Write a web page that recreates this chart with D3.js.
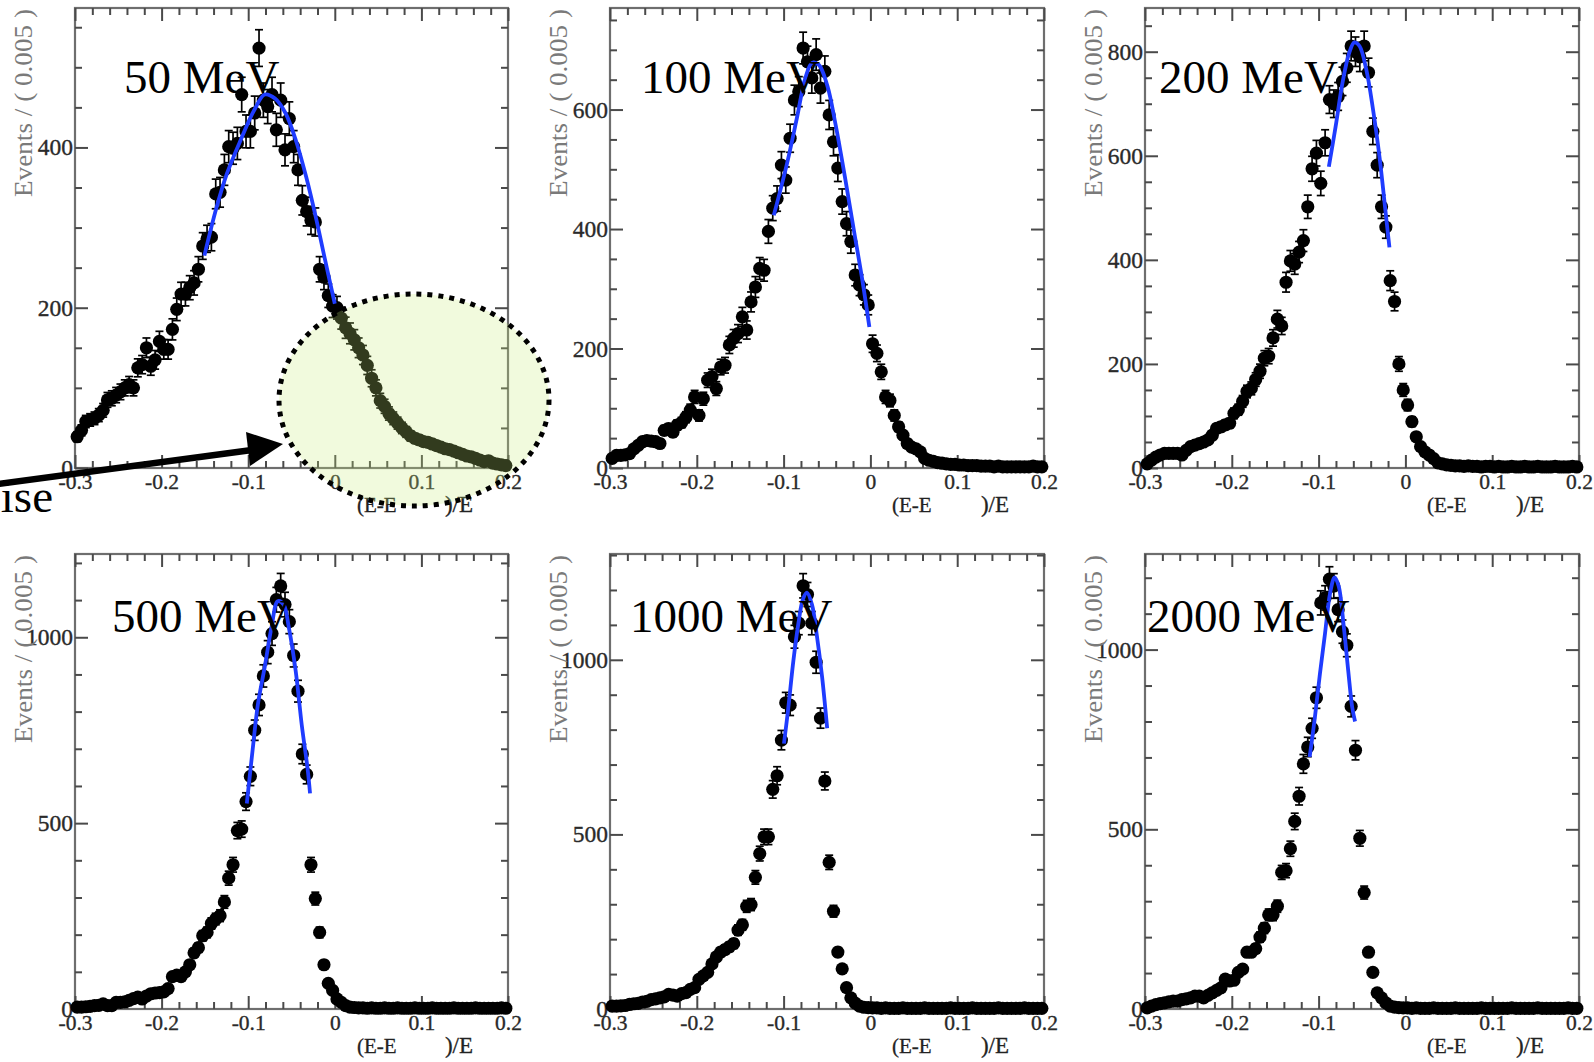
<!DOCTYPE html>
<html><head><meta charset="utf-8">
<script src="https://cdn.jsdelivr.net/npm/d3@7"></script>
<style>body{margin:0;background:#fff;}svg{display:block;}</style>
</head><body>
<svg id="chart" width="1594" height="1062"></svg>
<script>
// ---------- data ----------
const energies = ["50 MeV","100 MeV","200 MeV","500 MeV","1000 MeV","2000 MeV"];
const xTickValues = [-0.3,-0.2,-0.1,0,0.1,0.2];
const xTickLabels = ["-0.3","-0.2","-0.1","0","0.1","0.2"];
const yMaxes = [574,770,884,1224,1303,1266];
const yMajorTicks = [[0,200,400],[0,200,400,600],[0,200,400,600,800],[0,500,1000],[0,500,1000],[0,500,1000]];
const yMinorSteps = [50,50,50,100,100,100];
const yTitle = "Events / ( 0.005 )";
const xTitleLeft = "(E-E";
const xTitleRight = ")/E";
const noteText = "noise";

const counts50 = [39,47,58,60,62,66,72,85,87,91, 95,100,104,100,125,129,150,127,135,158,
  148,148,173,198,217,217,225,231,248,277, 286,288,342,344,372,401,399,405,466,420,
  420,443,524,459,451,466,422,459,397,436, 401,372,334,320,309,307,248,238,215,202,
  200,187,175,168,160,150,141,128,112,100, 84,77,68,62,56,50,45,40,37,35,
  33,32,30,28,26,24,23,21,19,17, 15,14,12,10,8,9,6,5,4,3];
const counts100 = [16,21,21,22,24,32,38,44,46,45, 44,41,63,66,60,72,76,85,97,119,
  88,116,147,153,133,169,172,206,217,225, 253,231,278,303,334,331,396,435,451,507,
  482,552,616,630,703,680,653,692,636,664, 591,546,502,446,409,379,323,306,290,273,
  208,192,161,119,113,88,69,55,41,35, 32,27,16,13,11,9,8,7,6,6,
  5,5,4,4,4,3,3,3,2,3, 2,2,2,2,2,2,2,3,2,2];
const counts200 = [8,15,21,25,28,28,28,28,25,34, 41,44,47,50,54,63,76,79,83,86,
  105,112,128,147,153,170,186,211,215,250, 286,273,357,398,392,415,437,502,575,605,
  547,625,708,700,714,743,769,811,800,790, 811,760,647,582,502,463,360,320,200,150,
  121,89,60,41,31,25,18,10,8,6, 5,4,4,3,4,3,3,2,3,3,
  2,3,2,2,3,2,2,3,2,2, 3,2,2,2,3,2,2,2,3,2];
const counts500 = [5,5,6,7,9,10,14,9,9,18, 18,19,23,28,32,27,35,41,43,44,
  46,55,87,91,87,100,119,151,165,197, 206,230,242,251,288,352,388,480,484,558,
  626,750,818,896,960,1010,1101,1138,1088,1042, 951,855,686,631,388,297,206,119,69,50,
  27,18,9,5,4,3,3,2,3,2, 2,3,2,2,3,2,2,2,3,2,
  2,2,3,2,2,2,2,3,2,2, 2,2,3,2,2,2,2,2,3,2];
const counts1000 = [8,8,9,10,13,15,16,20,22,27, 29,32,35,42,40,37,44,47,56,61,
  85,95,105,129,149,163,170,178,187,226, 241,294,299,377,445,493,493,629,668,770,
  877,870,1066,1105,1212,1187,1105,993,833,653, 420,280,163,115,61,32,17,8,5,4,
  3,3,2,3,2,2,2,3,2,2, 2,2,3,2,2,2,2,2,3,2,
  2,2,2,3,2,2,2,2,2,3, 2,2,2,2,2,3,2,2,2,2];
const counts2000 = [3,8,12,15,17,20,22,22,26,28, 31,36,36,31,38,45,52,59,83,78,
  80,102,111,158,158,168,200,225,262,262, 286,380,385,446,522,592,682,729,781,866,
  1130,1144,1196,1177,1111,1050,1012,842,720,475, 324,158,102,45,31,17,8,5,4,3,
  3,2,3,2,2,2,3,2,2,2, 2,3,2,2,2,2,2,3,2,2,
  2,2,2,2,3,2,2,2,2,2, 3,2,2,2,2,2,2,3,2,2];

const fit50 = [[-0.1506,265],[-0.1366,325],[-0.1247,367],[-0.1088,409],[-0.0928,447],[-0.0809,466],[-0.069,461],[-0.057,443],[-0.045,409],[-0.033,363],[-0.0211,309],[-0.0111,259],[0.0,205]];
const fit100 = [[-0.1113,423],[-0.0965,507],[-0.0848,585],[-0.0751,652],[-0.0673,678],[-0.0595,675],[-0.0498,641],[-0.04,574],[-0.0284,479],[-0.0187,395],[-0.009,312],[-0.0012,236]];
const fit200 = [[-0.0882,579],[-0.0804,656],[-0.0725,740],[-0.0647,798],[-0.0588,818],[-0.0529,811],[-0.0451,766],[-0.0373,689],[-0.0294,592],[-0.0235,502],[-0.0184,424]];
const fit500 = [[-0.1016,553],[-0.0948,699],[-0.0889,818],[-0.081,919],[-0.073,1028],[-0.0659,1097],[-0.0591,1088],[-0.0532,1028],[-0.0452,910],[-0.0381,763],[-0.0313,644],[-0.0286,580]];
const fit1000 = [[-0.0996,760],[-0.0946,862],[-0.0887,998],[-0.0829,1105],[-0.0778,1173],[-0.0731,1192],[-0.0673,1158],[-0.0615,1066],[-0.0556,950],[-0.0498,804]];
const fit2000 = [[-0.1103,701],[-0.1044,809],[-0.0985,932],[-0.0926,1045],[-0.0867,1158],[-0.0816,1201],[-0.0769,1177],[-0.071,1064],[-0.0659,942],[-0.0612,838],[-0.058,800]];

// ---------- layout ----------
const layout = {
  cols: [[75,508],[610,1044],[1145,1579]],
  rows: [[8,468],[554,1009]],
  labelDx: [49,31,14,37,20,2],
  labelBase: [93,632]
};
const serif = '"Liberation Serif","Times New Roman",Times,serif';
const countsAll = [counts50,counts100,counts200,counts500,counts1000,counts2000];
const fitsAll = [fit50,fit100,fit200,fit500,fit1000,fit2000];
const binCenters = d3.range(100).map(i => -0.2975 + 0.005*i);

const svg = d3.select('#chart');

energies.forEach((name, idx) => {
  const [L,R] = layout.cols[idx%3];
  const [T,B] = layout.rows[Math.floor(idx/3)];
  const yMax = yMaxes[idx];
  const x = d3.scaleLinear().domain([-0.3,0.2]).range([L,R]);
  const y = d3.scaleLinear().domain([0,yMax]).range([B,T]);
  const g = svg.append('g');

  g.append('rect').attr('x',L).attr('y',T).attr('width',R-L).attr('height',B-T)
    .attr('fill','none').attr('stroke','#6e6e6e').attr('stroke-width',2.2);

  const xMinor = d3.range(26).filter(k => k%5 !== 0).map(k => -0.3 + 0.02*k);
  const step = yMinorSteps[idx];
  const yMinor = d3.range(0, yMax, step).filter(v => !yMajorTicks[idx].includes(v));

  const style = (fs) => sel => {
    sel.select('.domain').remove();
    sel.attr('font-family', serif).attr('font-size', fs).attr('color', '#4a4a4a');
    sel.selectAll('line').attr('stroke-width', 2);
    sel.selectAll('text').attr('fill', '#2a2a2a').attr('stroke','#2a2a2a').attr('stroke-width',0.35);
  };
  // major + minor ticks on four sides
  g.append('g').attr('transform',`translate(0,${B})`)
    .call(d3.axisBottom(x).tickValues(xTickValues).tickFormat((d,i)=>xTickLabels[i]).tickSizeInner(-13).tickSizeOuter(0).tickPadding(6)).call(style(21.5));
  g.append('g').attr('transform',`translate(0,${B})`)
    .call(d3.axisBottom(x).tickValues(xMinor).tickFormat('').tickSizeInner(-7).tickSizeOuter(0)).call(style(21));
  g.append('g').attr('transform',`translate(0,${T})`)
    .call(d3.axisTop(x).tickValues(xTickValues).tickFormat('').tickSizeInner(-13).tickSizeOuter(0)).call(style(21));
  g.append('g').attr('transform',`translate(0,${T})`)
    .call(d3.axisTop(x).tickValues(xMinor).tickFormat('').tickSizeInner(-7).tickSizeOuter(0)).call(style(21));
  g.append('g').attr('transform',`translate(${L},0)`)
    .call(d3.axisLeft(y).tickValues(yMajorTicks[idx]).tickFormat(d3.format('d')).tickSizeInner(-13).tickSizeOuter(0).tickPadding(2)).call(style(23.5));
  g.append('g').attr('transform',`translate(${L},0)`)
    .call(d3.axisLeft(y).tickValues(yMinor).tickFormat('').tickSizeInner(-7).tickSizeOuter(0)).call(style(21));
  g.append('g').attr('transform',`translate(${R},0)`)
    .call(d3.axisRight(y).tickValues(yMajorTicks[idx]).tickFormat('').tickSizeInner(-13).tickSizeOuter(0)).call(style(21));
  g.append('g').attr('transform',`translate(${R},0)`)
    .call(d3.axisRight(y).tickValues(yMinor).tickFormat('').tickSizeInner(-7).tickSizeOuter(0)).call(style(21));

  // axis titles
  g.append('text').attr('transform',`translate(${L-43},${T+1}) rotate(-90)`)
    .attr('text-anchor','end').attr('font-family',serif).attr('font-size',25)
    .attr('fill','#7a7a7a').attr('textLength',188).attr('lengthAdjust','spacingAndGlyphs').text(yTitle);
  g.append('text').attr('x',L+282).attr('y',B+44).attr('font-family',serif).attr('font-size',21)
    .attr('fill','#222').attr('stroke','#222').attr('stroke-width',0.3).text(xTitleLeft);
  g.append('text').attr('x',R-35).attr('y',B+44).attr('text-anchor','end').attr('font-family',serif).attr('font-size',23)
    .attr('fill','#222').attr('stroke','#222').attr('stroke-width',0.3).text(xTitleRight);

  // data points with sqrt(N) error bars
  const data = countsAll[idx].map((v,i)=>({x:binCenters[i], v:v, e:Math.sqrt(v)}));
  const eg = g.append('g').attr('stroke','#000').attr('stroke-width',1.7);
  eg.selectAll('line.v').data(data).join('line').attr('class','v')
    .attr('x1',d=>x(d.x)).attr('x2',d=>x(d.x))
    .attr('y1',d=>y(d.v+d.e)).attr('y2',d=>y(Math.max(0,d.v-d.e)));
  eg.selectAll('line.t').data(data).join('line').attr('class','t')
    .attr('x1',d=>x(d.x)-4).attr('x2',d=>x(d.x)+4)
    .attr('y1',d=>y(d.v+d.e)).attr('y2',d=>y(d.v+d.e));
  eg.selectAll('line.b').data(data).join('line').attr('class','b')
    .attr('x1',d=>x(d.x)-4).attr('x2',d=>x(d.x)+4)
    .attr('y1',d=>y(Math.max(0,d.v-d.e))).attr('y2',d=>y(Math.max(0,d.v-d.e)));
  g.append('g').selectAll('circle').data(data).join('circle')
    .attr('cx',d=>x(d.x)).attr('cy',d=>y(d.v)).attr('r',6.6).attr('fill','#000');

  // fit curve
  const line = d3.line().x(d=>x(d[0])).y(d=>y(d[1])).curve(d3.curveCatmullRom.alpha(0.5));
  g.append('path').datum(fitsAll[idx]).attr('d',line).attr('fill','none')
    .attr('stroke','#1f3cff').attr('stroke-width',3.8).attr('stroke-linecap','butt');

  // energy label
  g.append('text').attr('x',L+layout.labelDx[idx]).attr('y',layout.labelBase[Math.floor(idx/3)])
    .attr('font-family',serif).attr('font-size',47).attr('fill','#000').text(name);
});

// ---------- annotation (panel 1) ----------
const ann = svg.append('g');
ann.append('ellipse').attr('cx',414).attr('cy',400).attr('rx',135).attr('ry',106)
  .attr('fill','rgba(200,235,120,0.25)').attr('stroke','#000').attr('stroke-width',5)
  .attr('stroke-dasharray','5 6');
ann.append('text').attr('x',53).attr('y',512).attr('text-anchor','end')
  .attr('font-family',serif).attr('font-size',47).attr('fill','#000').text(noteText);
ann.append('line').attr('x1',-2).attr('y1',484).attr('x2',252).attr('y2',450)
  .attr('stroke','#000').attr('stroke-width',6.5);
ann.append('polygon').attr('points','283,444 246,432 250,466').attr('fill','#000');
</script>
</body></html>
